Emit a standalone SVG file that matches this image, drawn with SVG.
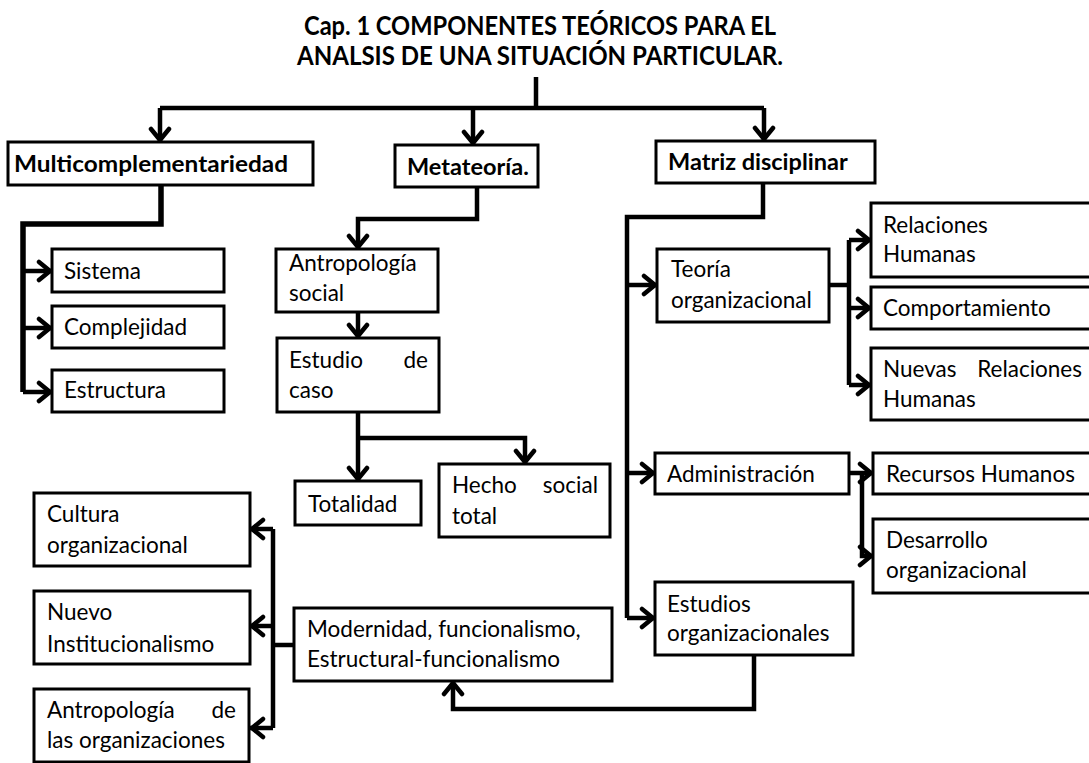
<svg xmlns="http://www.w3.org/2000/svg" width="1089" height="763" viewBox="0 0 1089 763">
<style>
.box{fill:#fff;stroke:#000;stroke-width:3}
.t{font-family:Lato,"Liberation Sans",sans-serif;font-size:22.5px;fill:#000}
.b{font-family:Lato,"Liberation Sans",sans-serif;font-size:23.5px;font-weight:bold;fill:#000}
.ti{font-family:Lato,"Liberation Sans",sans-serif;font-size:26px;font-weight:bold;fill:#000}
.c{fill:none;stroke:#000;stroke-width:4.5;stroke-linejoin:miter}
.a{marker-end:url(#arr)}
</style>
<defs>
<marker id="arr" viewBox="-16 -16 32 32" markerWidth="32" markerHeight="32" refX="0" refY="0" orient="auto" markerUnits="userSpaceOnUse">
<path d="M-13,-9 L-2,0 L-13,9" fill="none" stroke="#000" stroke-width="4.5" stroke-linecap="round" stroke-linejoin="round"/>
</marker>
</defs>
<rect width="1089" height="763" fill="#fff"/>
<g id="title">
<text class="ti" x="540" y="35" text-anchor="middle" textLength="472" lengthAdjust="spacingAndGlyphs">Cap. 1 COMPONENTES TEÓRICOS PARA EL</text>
<text class="ti" x="540" y="65" text-anchor="middle" textLength="486" lengthAdjust="spacingAndGlyphs">ANALSIS DE UNA SITUACIÓN PARTICULAR.</text>
</g>
<g id="connectors">
<path class="c" d="M536,77 V108 M160,108 H764"/>
<path class="c a" d="M160,108 V142"/>
<path class="c a" d="M473,108 V145"/>
<path class="c a" d="M764,108 V141"/>
<path class="c" d="M161,185 V224 H23 V392" style="stroke-width:5.5"/>
<path class="c a" d="M23,271 H52"/>
<path class="c a" d="M23,328 H52"/>
<path class="c a" d="M23,392 H52"/>
<path class="c a" d="M477,187 V219 H358 V249"/>
<path class="c a" d="M358,312 V338"/>
<path class="c a" d="M358,412 V481"/>
<path class="c a" d="M358,438 H525 V464"/>
<path class="c" d="M763,183 V217 H627 V618"/>
<path class="c a" d="M627,285 H657"/>
<path class="c a" d="M627,473 H655"/>
<path class="c a" d="M627,618 H655"/>
<path class="c" d="M829,285 H849 M849,240 V385"/>
<path class="c a" d="M849,240 H871"/>
<path class="c a" d="M849,308 H871"/>
<path class="c a" d="M849,385 H871"/>
<path class="c a" d="M849,473 H873"/>
<path class="c a" d="M862,473 V556 H873"/>
<path class="c a" d="M754,655 V709 H453 V681"/>
<path class="c" d="M294,645 H273 M273,529 V728"/>
<path class="c a" d="M273,529 H250"/>
<path class="c a" d="M273,626 H250"/>
<path class="c a" d="M273,728 H250"/>
</g>
<g id="multicomplementariedad"><rect class="box" x="8" y="142" width="305" height="43"/><text class="b" x="14" y="172" textLength="274" lengthAdjust="spacingAndGlyphs">Multicomplementariedad</text></g>
<g id="metateoria"><rect class="box" x="395" y="145" width="143" height="42"/><text class="b" x="407" y="175">Metateoría.</text></g>
<g id="matriz"><rect class="box" x="656" y="141" width="219" height="42"/><text class="b" x="668" y="170">Matriz disciplinar</text></g>
<g id="sistema"><rect class="box" x="52" y="249" width="172" height="43"/><text class="t" x="64" y="279">Sistema</text></g>
<g id="complejidad"><rect class="box" x="52" y="306" width="172" height="42"/><text class="t" x="64" y="335">Complejidad</text></g>
<g id="estructura"><rect class="box" x="52" y="370" width="172" height="42"/><text class="t" x="64" y="398">Estructura</text></g>
<g id="antropologia-social"><rect class="box" x="276" y="249" width="162" height="63"/><text class="t" x="289" y="271">Antropología</text><text class="t" x="289" y="301">social</text></g>
<g id="estudio-caso"><rect class="box" x="277" y="338" width="162" height="74"/><text class="t" x="289" y="368">Estudio</text><text class="t" x="428" y="368" text-anchor="end">de</text><text class="t" x="289" y="398">caso</text></g>
<g id="totalidad"><rect class="box" x="295" y="481" width="126" height="44"/><text class="t" x="308" y="512">Totalidad</text></g>
<g id="hecho-social"><rect class="box" x="439" y="464" width="171" height="73"/><text class="t" x="452" y="493">Hecho</text><text class="t" x="598" y="493" text-anchor="end">social</text><text class="t" x="452" y="524">total</text></g>
<g id="cultura"><rect class="box" x="34" y="493" width="216" height="73"/><text class="t" x="47" y="522">Cultura</text><text class="t" x="47" y="553">organizacional</text></g>
<g id="nuevo-institucionalismo"><rect class="box" x="34" y="591" width="216" height="73"/><text class="t" x="47" y="620">Nuevo</text><text class="t" x="47" y="652">Institucionalismo</text></g>
<g id="antropologia-organizaciones"><rect class="box" x="34" y="689" width="215" height="73"/><text class="t" x="47" y="718">Antropología</text><text class="t" x="236" y="718" text-anchor="end">de</text><text class="t" x="47" y="748">las organizaciones</text></g>
<g id="modernidad"><rect class="box" x="294" y="608" width="318" height="73"/><text class="t" x="307" y="637">Modernidad, funcionalismo,</text><text class="t" x="307" y="667">Estructural-funcionalismo</text></g>
<g id="teoria-organizacional"><rect class="box" x="657" y="249" width="172" height="73"/><text class="t" x="671" y="277">Teoría</text><text class="t" x="671" y="308">organizacional</text></g>
<g id="relaciones-humanas"><rect class="box" x="871" y="203" width="225" height="74"/><text class="t" x="883" y="233">Relaciones</text><text class="t" x="883" y="262">Humanas</text></g>
<g id="comportamiento"><rect class="box" x="871" y="287" width="225" height="42"/><text class="t" x="883" y="316">Comportamiento</text></g>
<g id="nuevas-relaciones"><rect class="box" x="871" y="348" width="225" height="72"/><text class="t" x="883" y="377">Nuevas</text><text class="t" x="1082" y="377" text-anchor="end">Relaciones</text><text class="t" x="883" y="407">Humanas</text></g>
<g id="administracion"><rect class="box" x="655" y="453" width="194" height="41"/><text class="t" x="667" y="482">Administración</text></g>
<g id="recursos-humanos"><rect class="box" x="873" y="453" width="223" height="41"/><text class="t" x="886" y="482">Recursos Humanos</text></g>
<g id="desarrollo"><rect class="box" x="873" y="519" width="223" height="74"/><text class="t" x="886" y="548">Desarrollo</text><text class="t" x="886" y="578">organizacional</text></g>
<g id="estudios-organizacionales"><rect class="box" x="655" y="582" width="198" height="73"/><text class="t" x="667" y="612">Estudios</text><text class="t" x="667" y="641">organizacionales</text></g>
</svg>
